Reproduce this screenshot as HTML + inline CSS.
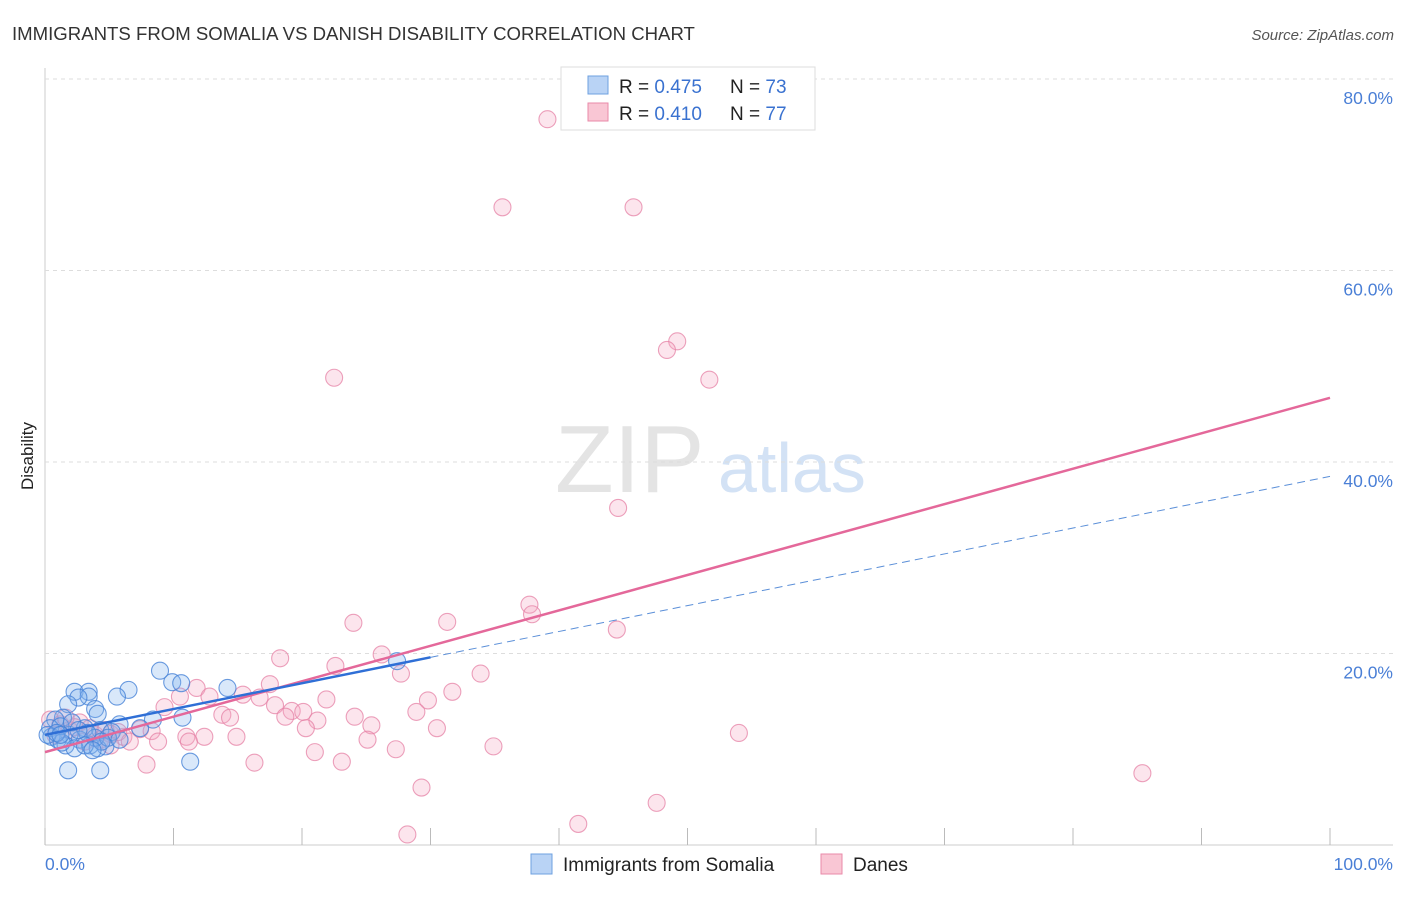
<!DOCTYPE html>
<html><head><meta charset="utf-8"><style>
body{margin:0;background:#fff;font-family:"Liberation Sans",sans-serif}
svg text{font-family:"Liberation Sans",sans-serif}
</style></head><body>
<svg id="c" width="1406" height="892" xmlns="http://www.w3.org/2000/svg">
<text x="12" y="40" font-size="18.6" fill="#333">IMMIGRANTS FROM SOMALIA VS DANISH DISABILITY CORRELATION CHART</text>
<text x="1394" y="40" font-size="15" fill="#555" text-anchor="end" font-style="italic">Source: ZipAtlas.com</text>
<text transform="translate(33,456) rotate(-90)" font-size="17" fill="#222" text-anchor="middle">Disability</text>
<text x="555" y="492" font-size="96" fill="#e4e4e4" font-family="Liberation Serif">ZIP</text>
<text x="718" y="492" font-size="70" fill="#d3e2f5">atlas</text>
<g id="grid"></g><g id="pts"></g><g id="lines"></g>
<g>
<rect x="561" y="67" width="254" height="63" fill="#fff" stroke="#ddd"/>
<rect x="588" y="76" width="20" height="18" fill="#b9d3f5" stroke="#6ea0e0"/>
<rect x="588" y="103" width="20" height="18" fill="#f9c6d4" stroke="#e98aa9"/>
<text x="619" y="93" font-size="19" fill="#222">R = <tspan fill="#3a72d0">0.475</tspan></text>
<text x="730" y="93" font-size="19" fill="#222">N = <tspan fill="#3a72d0">73</tspan></text>
<text x="619" y="120" font-size="19" fill="#222">R = <tspan fill="#3a72d0">0.410</tspan></text>
<text x="730" y="120" font-size="19" fill="#222">N = <tspan fill="#3a72d0">77</tspan></text>
</g>
<g>
<rect x="531" y="854" width="21" height="20" fill="#b9d3f5" stroke="#6ea0e0"/>
<text x="563" y="871" font-size="19" fill="#222">Immigrants from Somalia</text>
<rect x="821" y="854" width="21" height="20" fill="#f9c6d4" stroke="#e98aa9"/>
<text x="853" y="871" font-size="19" fill="#222">Danes</text>
</g>
</svg>
<script>
const blueX=[8.95,9.9,10.6,14.2,6.5,2.3,3.4,3.4,5.6,2.6,1.8,3.9,4.1,10.7,8.4,1.4,0.8,5.8,0.4,1.2,3.1,4.3,5.2,1.9,0.5,1.0,2.7,1.6,3.5,4.7,2.3,4.1,1.3,0.2,0.9,3.9,3.3,4.9,4.4,11.3,1.8,4.3,27.4,7.4,5.8,2.1,3.1,3.7,1.2,2.6];
const blueY=[18.2,17.0,16.9,16.4,16.2,16.0,16.0,15.5,15.5,15.4,14.7,14.2,13.7,13.3,13.1,13.3,13.1,12.6,12.2,12.4,12.2,12.0,11.8,11.5,11.3,11.0,11.0,10.4,10.4,10.3,10.1,10.1,10.7,11.5,11.7,11.2,11.7,11.2,10.8,8.7,7.8,7.8,19.2,12.2,11.0,12.8,10.4,9.9,11.5,12.0];
const pinkX=[39.1,35.6,45.8,49.2,48.4,22.5,51.7,44.6,37.7,37.9,24.0,31.3,44.5,26.2,18.3,22.6,27.7,33.9,17.5,11.8,31.7,21.9,29.8,15.4,10.5,12.8,16.7,17.9,19.2,20.1,28.9,9.3,13.8,14.4,24.1,18.7,21.2,25.4,20.3,30.5,7.4,8.3,5.1,6.1,11.0,12.4,14.9,5.7,6.6,25.1,8.8,11.2,34.9,54.0,21.0,27.3,16.3,7.9,23.1,85.4,29.3,47.6,41.5,28.2,0.4,1.2,2.7,1.9,3.9,4.3,3.1,0.8,5.1,2.3,1.6,3.5,4.7];
const pinkY=[75.8,66.6,66.6,52.6,51.7,48.8,48.6,35.2,25.1,24.1,23.2,23.3,22.5,19.9,19.5,18.7,17.9,17.9,16.8,16.4,16.0,15.2,15.1,15.7,15.5,15.5,15.4,14.6,14.0,13.9,13.9,14.4,13.6,13.3,13.4,13.4,13.0,12.5,12.2,12.2,12.1,11.9,11.6,11.3,11.3,11.3,11.3,11.8,10.8,11.0,10.8,10.8,10.3,11.7,9.7,10.0,8.6,8.4,8.7,7.5,6.0,4.4,2.2,1.1,13.1,12.6,12.8,12.0,11.5,11.0,10.8,11.5,10.4,12.3,13.3,12.2,12.0];
const yTicks=[20,40,60,80];
const yTickLabels=["20.0%","40.0%","60.0%","80.0%"];
const xTicks=[0,10,20,30,40,50,60,70,80,90,100];
const blueTrend=[11.5,0.27]; // intercept, slope
const pinkTrend=[9.7,0.37];
const sx=v=>45+v*12.85, sy=v=>845-v*9.575;
const NS="http://www.w3.org/2000/svg";
function mk(p,t,a){const e=document.createElementNS(NS,t);for(const k in a)e.setAttribute(k,a[k]);p.appendChild(e);return e;}
const g=document.getElementById('grid');
let ax=mk(g,'line',{x1:45,y1:68,x2:45,y2:845,stroke:'#ccc'});


let bx=mk(g,'line',{x1:45,y1:845,x2:1393,y2:845,stroke:'#ccc'});


yTicks.forEach((t,i)=>{
 const l=mk(g,'line',{x1:45,x2:1393,y1:sy(t),y2:sy(t),stroke:'#ddd','stroke-dasharray':'4,4'});
 
 
 const tx=mk(g,'text',{x:1393,y:sy(t)+25,'font-size':17.5,fill:'#4a7fd6','text-anchor':'end'});
 tx.textContent=yTickLabels[i];
 
 
});
xTicks.forEach(t=>{
 const l=mk(g,'line',{x1:sx(t),x2:sx(t),y1:828,y2:845,stroke:'#bbb'});
 
 
});
[[0,"0.0%","start",45],[100,"100.0%","end",1393]].forEach(d=>{
 const tx=mk(g,'text',{x:d[3],y:870,'font-size':17.5,fill:'#4a7fd6','text-anchor':d[2]});
 tx.textContent=d[1];
 
 
});
const P=document.getElementById('pts');
pinkX.forEach((x,i)=>{
 const c=mk(P,'circle',{cx:sx(x),cy:sy(pinkY[i]),r:8.5,fill:'rgba(246,170,196,0.3)',stroke:'rgba(230,130,165,0.75)','stroke-width':1.1});
 
 
});
blueX.forEach((x,i)=>{
 const c=mk(P,'circle',{cx:sx(x),cy:sy(blueY[i]),r:8.5,fill:'rgba(130,178,238,0.3)',stroke:'rgba(70,130,215,0.8)','stroke-width':1.1});
 
 
});
const L=document.getElementById('lines');
let pl=mk(L,'line',{x1:sx(0),y1:sy(pinkTrend[0]),x2:sx(100),y2:sy(pinkTrend[0]+pinkTrend[1]*100),stroke:'#e4689a','stroke-width':2.5});


let bl=mk(L,'line',{x1:sx(0),y1:sy(blueTrend[0]),x2:sx(30),y2:sy(blueTrend[0]+blueTrend[1]*30),stroke:'#2f6fd6','stroke-width':2.5});


let bd=mk(L,'line',{x1:sx(30),y1:sy(blueTrend[0]+blueTrend[1]*30),x2:sx(100),y2:sy(blueTrend[0]+blueTrend[1]*100),stroke:'#5b8fd8','stroke-width':1,'stroke-dasharray':'8,5'});


</script>
</body></html>
